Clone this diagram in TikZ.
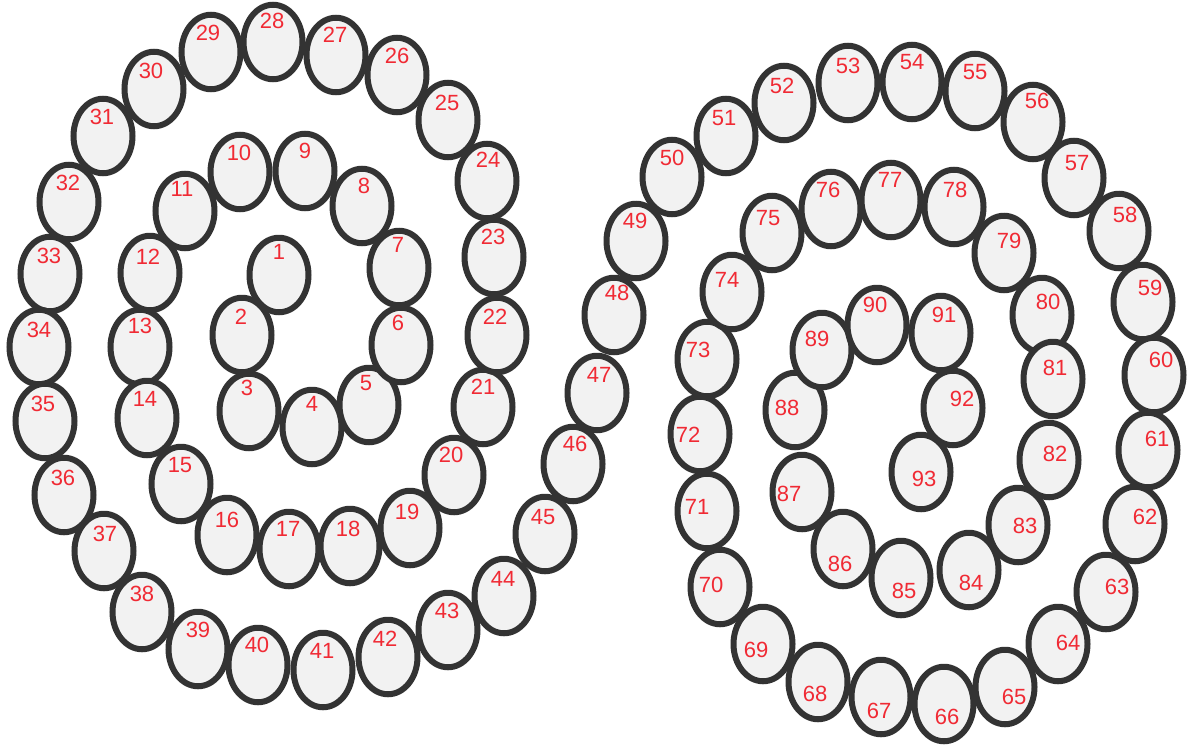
\documentclass[tikz,border=0pt]{standalone}
\usepackage{fontspec}
\setmainfont{Liberation Sans}
\usetikzlibrary{shapes.geometric}
\definecolor{ballfill}{HTML}{F2F2F2}
\definecolor{balldraw}{HTML}{333333}
\definecolor{numred}{RGB}{240,42,52}
\tikzset{
  ball/.style={shape=ellipse, draw=balldraw, fill=ballfill, line width=6pt,
    minimum width=59pt, minimum height=74.5pt, inner sep=0pt},
  numlabel/.style={text=numred, inner sep=0pt, font=\fontsize{22}{22}\selectfont}
}
\begin{document}
\begin{tikzpicture}[x=1pt,y=-1pt]
\useasboundingbox (0,0) rectangle (1191,745);
\foreach \n/\x/\y/\lx/\ly in {
1/279/275/279/252, 2/242/335/241/317, 3/249/411/247/388, 4/312/427/312/404,
5/369/405/366/383, 6/401/345/398/323, 7/399/268/398/245, 8/362/206/364/186,
9/305/171/305/151, 10/240/172/239/153, 11/185/211/182/189, 12/150/273/148/257,
13/140/347/140/326, 14/147/418/145/399, 15/181/484/180/465, 16/227/535/227/520,
17/289/549/288/529, 18/350/546/348/529, 19/410/528/407/512, 20/454/475/451/455,
21/483/407/483/387, 22/497/335/495/317, 23/494/257/493/237, 24/487/181/488/160,
25/448/120/447/103, 26/397/75/397/56, 27/336/55/335/35, 28/273/42/272/21,
29/211/52/208/33, 30/154/89/151/71, 31/103/136/102/117, 32/69/202/68/183,
33/50/274/49/256, 34/39/347/39/330, 35/45/421/43/404, 36/64/495/63/478,
37/104/551/105/534, 38/142/612/142/594, 39/198/649/198/630, 40/258/665/257/645,
41/323/670/322/651, 42/388/657/385/639, 43/448/630/447/611, 44/504/596/503/579,
45/545/534/543/517, 46/573/464/575/444, 47/597/393/599/375, 48/614/315/617/293,
49/636/241/635/221, 50/672/177/672/158, 51/726/136/724/118, 52/784/103/782/86,
53/848/83/848/66, 54/912/82/912/62, 55/975/91/975/72, 56/1033/122/1037/101,
57/1074/178/1077/163, 58/1119/231/1125/215, 59/1143/302/1150/288, 60/1154/375/1161/360,
61/1148/450/1157/439, 62/1135/524/1145/517, 63/1106/592/1117/587, 64/1058/644/1068/643,
65/1005/687/1014/697, 66/944/704/947/717, 67/881/697/879/711, 68/818/682/815/694,
69/763/644/756/650, 70/720/587/711/585, 71/707/511/697/507, 72/700/434/688/435,
73/707/359/698/350, 74/732/292/727/280, 75/772/233/768/218, 76/831/209/828/190,
77/891/200/890/180, 78/954/207/955/190, 79/1004/253/1009/241, 80/1042/315/1048/302,
81/1053/379/1055/368, 82/1049/460/1055/454, 83/1018/525/1025/526, 84/969/570/971/583,
85/901/578/904/591, 86/843/549/840/564, 87/802/492/789/494, 88/795/410/787/408,
89/822/350/817/339, 90/877/325/875/305, 91/941/333/944/315, 92/953/408/962/399,
93/921/472/924/479}{
  \node[ball] (b\n) at (\x,\y) {};
  \node[numlabel] (l\n) at (\lx,\ly) {\n};
}
\end{tikzpicture}
\end{document}
